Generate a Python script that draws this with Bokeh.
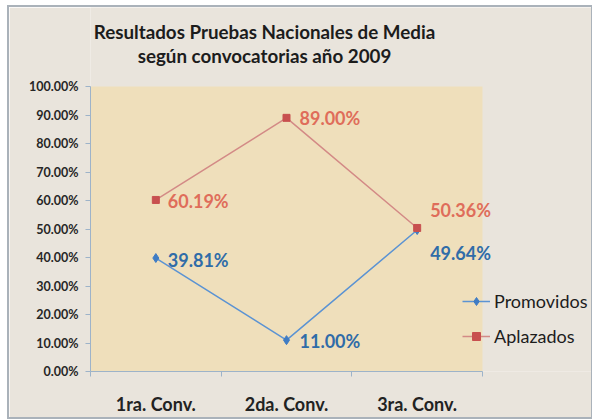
from bokeh.plotting import figure
from bokeh.models import (Range1d, FixedTicker, NumeralTickFormatter, Label,
                          Legend, LegendItem, ColumnDataSource, BoxAnnotation)
from bokeh.core.properties import value
from bokeh.embed import file_html
from bokeh.resources import INLINE

# ---- data ----
title_lines = ["Resultados Pruebas Nacionales de Media", "según convocatorias año 2009"]
categories = ["1ra. Conv.", "2da. Conv.", "3ra. Conv."]
promovidos = [0.3981, 0.1100, 0.4964]
aplazados = [0.6019, 0.8900, 0.5036]
y_ticks = [0.0, 0.1, 0.2, 0.3, 0.4, 0.5, 0.6, 0.7, 0.8, 0.9, 1.0]

# label offsets (style, pixels)
prom_off_x = [12, 13, 13]
prom_off_y = [2, 1, 23]
apl_off_x = [12, 13, 13]
apl_off_y = [1, 0, -18]

FONT = "Lato"
n = len(categories)
xs = [i + 0.5 for i in range(n)]
bounds = [float(i) for i in range(n + 1)]

# layout (pixels)
W, H = 582, 408
LEFT, BOTTOM = 81, 44
AREA_W, AREA_H = 392, 285          # plot-area size
FW, FH = W - LEFT, H - BOTTOM      # frame covers all the rest, so nothing gets clipped

p = figure(width=W, height=H, output_backend="svg", toolbar_location=None,
           x_range=Range1d(0, n * FW / AREA_W), y_range=Range1d(0, FH / AREA_H),
           frame_width=FW, frame_height=FH,
           min_border_left=LEFT, min_border_right=0, min_border_top=0, min_border_bottom=BOTTOM)
p.styles = {"margin-left": "9px", "margin-top": "7px",
            "box-shadow": "0 0 0 2px #aab2ba"}
outer = "#e9e4dc"
p.background_fill_color = outer
p.border_fill_color = outer
p.outline_line_color = None
p.xgrid.grid_line_color = None
p.ygrid.grid_line_color = None

p.add_layout(BoxAnnotation(left=0, right=n, bottom=0, top=1, fill_color="#efdfbb",
                           fill_alpha=1, line_color=None, level="underlay"))

axis_col = "#9db3c9"
# x axis
xa = p.xaxis[0]
xa.bounds = (0, n)
xa.ticker = FixedTicker(ticks=xs, minor_ticks=bounds)
xa.major_label_overrides = {x: c for x, c in zip(xs, categories)}
xa.major_tick_line_color = None
xa.major_tick_out = 0
xa.major_tick_in = 0
xa.minor_tick_out = 5
xa.minor_tick_in = 0
xa.minor_tick_line_color = axis_col
xa.axis_line_color = axis_col
xa.major_label_text_font = FONT
xa.major_label_text_font_style = "bold"
xa.major_label_text_font_size = "18px"
xa.major_label_text_color = "#222222"
xa.major_label_standoff = 16

ya = p.yaxis[0]
ya.bounds = (0, 1)
ya.ticker = FixedTicker(ticks=y_ticks)
ya.formatter = NumeralTickFormatter(format="0.00%")
ya.minor_tick_line_color = None
ya.major_tick_out = 5
ya.major_tick_in = 0
ya.major_tick_line_color = axis_col
ya.axis_line_color = axis_col
ya.major_label_text_font = FONT
ya.major_label_text_font_style = "bold"
ya.major_label_text_font_size = "12.5px"
ya.major_label_text_color = "#262626"
ya.major_label_standoff = 7

blue_line = "#5b93d3"
blue_mark = "#3f7cc4"
blue_txt = "#2f6ca8"
red_line = "#d38a86"
red_mark = "#c8504f"
red_txt = "#df6d5a"

src_p = ColumnDataSource(dict(x=xs, y=promovidos,
                              t=[f"{v*100:.2f}%" for v in promovidos],
                              ox=prom_off_x, oy=prom_off_y))
src_a = ColumnDataSource(dict(x=xs, y=aplazados,
                              t=[f"{v*100:.2f}%" for v in aplazados],
                              ox=apl_off_x, oy=apl_off_y))

lp = p.line("x", "y", source=src_p, line_color=blue_line, line_width=1.5)
mp = p.scatter("x", "y", source=src_p, marker="diamond", size=9,
               fill_color=blue_mark, line_color=blue_mark)
la = p.line("x", "y", source=src_a, line_color=red_line, line_width=1.5)
ma = p.scatter("x", "y", source=src_a, marker="square", size=7,
               fill_color=red_mark, line_color=red_mark)

p.text("x", "y", text="t", source=src_p, x_offset="ox", y_offset="oy",
       text_font=value(FONT), text_font_style="bold", text_font_size="18px",
       text_color=blue_txt, text_baseline="middle", text_align="left")
p.text("x", "y", text="t", source=src_a, x_offset="ox", y_offset="oy",
       text_font=value(FONT), text_font_style="bold", text_font_size="18px",
       text_color=red_txt, text_baseline="middle", text_align="left")

# title
for txt, yy in zip(title_lines, [340, 316]):
    p.add_layout(Label(x=174, y=yy, x_units="screen", y_units="screen", text=txt,
                       text_font=FONT, text_font_style="bold", text_font_size="18.8px",
                       text_color="#1c1c1c", text_align="center", text_baseline="middle"))

legend = Legend(items=[LegendItem(label="Promovidos", renderers=[lp, mp]),
                       LegendItem(label="Aplazados", renderers=[la, ma])],
                location=(372, 24), orientation="vertical")
legend.background_fill_alpha = 0
legend.border_line_color = None
legend.padding = 0
legend.margin = 0
legend.spacing = 13
legend.glyph_width = 28
legend.glyph_height = 20
legend.label_height = 20
legend.label_standoff = 4
legend.label_text_font = FONT
legend.label_text_font_size = "18px"
legend.label_text_color = "#1c1c1c"
p.add_layout(legend, "center")

open("out.html", "w").write(file_html(p, INLINE))
